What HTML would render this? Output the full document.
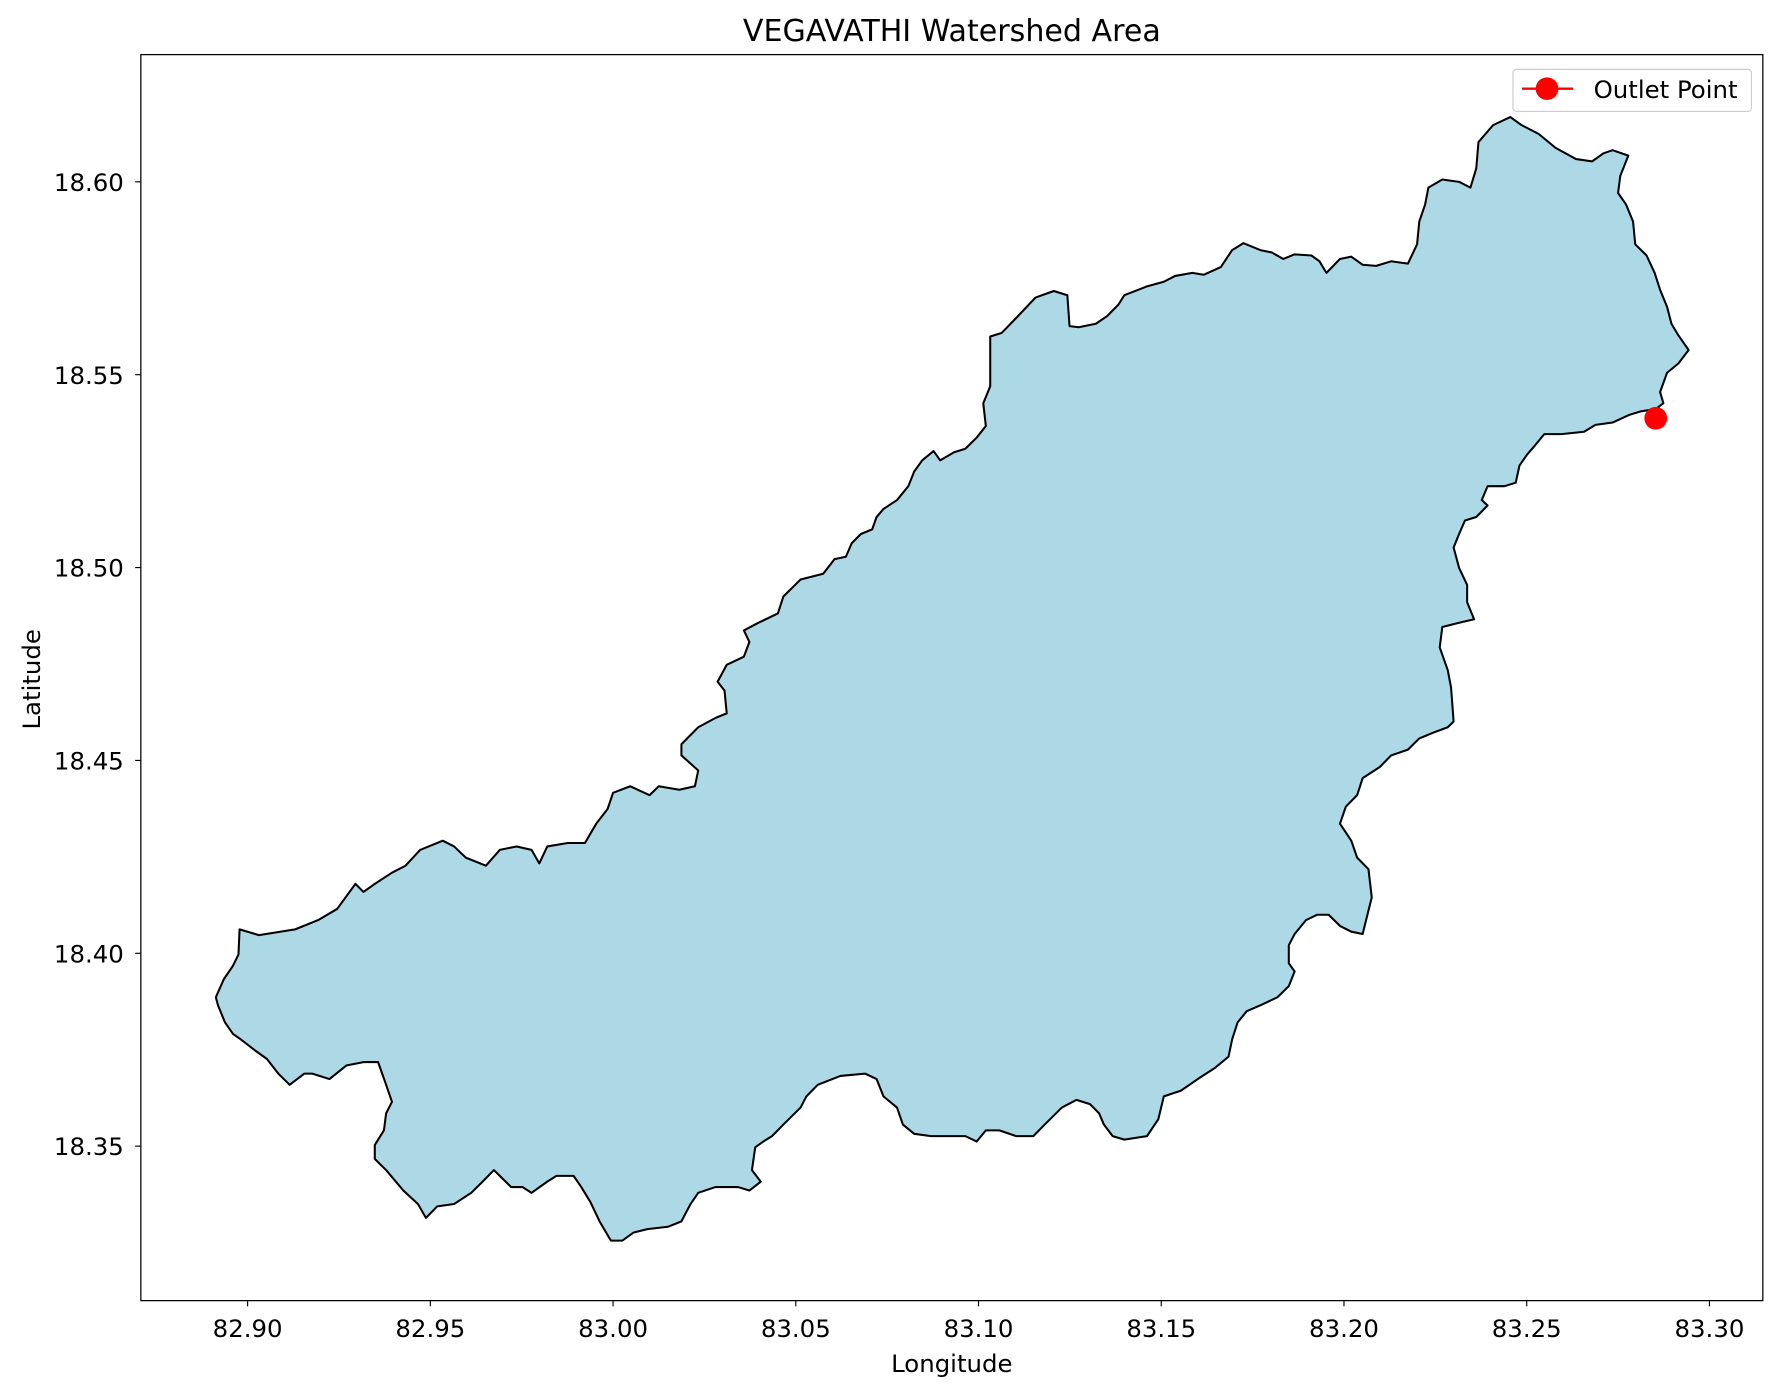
<!DOCTYPE html>
<html><head><meta charset="utf-8"><style>
html,body{margin:0;padding:0;background:#fff;}
svg{display:block;font-family:"DejaVu Sans","Liberation Sans",sans-serif;}
</style></head><body>
<svg id="chart" width="1781" height="1395" viewBox="0 0 1568 1228">
<rect x="0" y="0" width="1568" height="1228" fill="#fff"/>
<text x="838" y="36" text-anchor="middle" font-size="26.5" fill="#000">VEGAVATHI Watershed Area</text>
<g id="plot"></g>
<g id="axes"></g>
<text x="838" y="1208" text-anchor="middle" font-size="21.5">Longitude</text>
<text x="0" y="0" transform="translate(35,598) rotate(-90)" text-anchor="middle" font-size="21.5">Latitude</text>
<g>
<rect x="1332" y="61" width="210" height="37" rx="3" fill="#fff" fill-opacity="0.8" stroke="#ccc" stroke-width="1"/>
<line x1="1340" y1="78" x2="1385" y2="78" stroke="#ff0000" stroke-width="2"/>
<circle cx="1362" cy="78" r="10" fill="#ff0000"/>
<text x="1403" y="86" font-size="21.5">Outlet Point</text>
</g>
</svg>
<script>
const lon = [82.8913,82.8935,82.8960,82.8975,82.8978,82.9031,82.9130,82.9193,82.9245,82.9295,82.9317,82.9348,82.9395,82.9432,82.9472,82.9534,82.9565,82.9597,82.9652,82.9690,82.9736,82.9777,82.9798,82.9820,82.9876,82.9923,82.9954,82.9985,83.0000,83.0047,83.0100,83.0125,83.0181,83.0224,83.0233,83.0187,83.0187,83.0233,83.0280,83.0311,83.0305,83.0286,83.0311,83.0358,83.0373,83.0358,83.0398,83.0451,83.0466,83.0498,83.0513,83.0575,83.0606,83.0637,83.0653,83.0678,83.0709,83.0721,83.0740,83.0777,83.0808,83.0824,83.0846,83.0877,83.0895,83.0933,83.0964,83.0995,83.1020,83.1013,83.1032,83.1032,83.1032,83.1063,83.1103,83.1156,83.1206,83.1243,83.1249,83.1274,83.1321,83.1352,83.1383,83.1399,83.1461,83.1507,83.1538,83.1585,83.1616,83.1663,83.1694,83.1725,83.1771,83.1802,83.1834,83.1865,83.1911,83.1933,83.1952,83.1989,83.2020,83.2051,83.2088,83.2129,83.2175,83.2200,83.2206,83.2222,83.2231,83.2269,83.2315,83.2346,83.2362,83.2368,83.2408,83.2455,83.2486,83.2533,83.2579,83.2635,83.2679,83.2710,83.2735,83.2778,83.2756,83.2750,83.2772,83.2791,83.2797,83.2828,83.2850,83.2865,83.2884,83.2896,83.2915,83.2943,83.2915,83.2884,83.2865,83.2874,83.2853,83.2812,83.2781,83.2735,83.2688,83.2657,83.2595,83.2548,83.2523,83.2501,83.2480,83.2470,83.2439,83.2393,83.2377,83.2393,83.2362,83.2331,83.2315,83.2300,83.2315,83.2337,83.2337,83.2356,83.2315,83.2269,83.2262,83.2284,83.2293,83.2300,83.2284,83.2244,83.2206,83.2175,83.2129,83.2098,83.2051,83.2036,83.2005,83.1989,83.2020,83.2036,83.2067,83.2076,83.2051,83.2020,83.1989,83.1958,83.1927,83.1896,83.1865,83.1849,83.1849,83.1865,83.1849,83.1818,83.1771,83.1734,83.1709,83.1694,83.1684,83.1647,83.1600,83.1554,83.1507,83.1492,83.1461,83.1399,83.1367,83.1343,83.1330,83.1305,83.1268,83.1228,83.1181,83.1150,83.1103,83.1057,83.1020,83.0995,83.0964,83.0917,83.0870,83.0824,83.0793,83.0777,83.0740,83.0721,83.0690,83.0622,83.0560,83.0529,83.0513,83.0466,83.0435,83.0411,83.0389,83.0380,83.0404,83.0373,83.0342,83.0280,83.0233,83.0212,83.0187,83.0150,83.0094,83.0056,83.0025,82.9994,82.9963,82.9938,82.9913,82.9892,82.9845,82.9820,82.9777,82.9752,82.9721,82.9690,82.9674,82.9643,82.9612,82.9565,82.9519,82.9488,82.9466,82.9426,82.9379,82.9348,82.9348,82.9373,82.9379,82.9395,82.9379,82.9357,82.9317,82.9270,82.9224,82.9177,82.9155,82.9115,82.9084,82.9053,82.9022,82.8981,82.8960,82.8938,82.8919];
const lat = [18.3886,18.3933,18.3968,18.3997,18.4062,18.4047,18.4062,18.4086,18.4115,18.4180,18.4159,18.4180,18.4209,18.4227,18.4268,18.4292,18.4277,18.4248,18.4227,18.4268,18.4277,18.4268,18.4233,18.4277,18.4286,18.4286,18.4336,18.4374,18.4416,18.4433,18.4410,18.4433,18.4424,18.4433,18.4474,18.4513,18.4542,18.4586,18.4610,18.4622,18.4681,18.4704,18.4748,18.4769,18.4807,18.4837,18.4857,18.4881,18.4925,18.4955,18.4969,18.4984,18.5022,18.5028,18.5063,18.5087,18.5099,18.5131,18.5152,18.5175,18.5211,18.5249,18.5278,18.5302,18.5278,18.5299,18.5308,18.5337,18.5367,18.5426,18.5470,18.5558,18.5599,18.5608,18.5647,18.5700,18.5717,18.5706,18.5626,18.5623,18.5632,18.5652,18.5682,18.5706,18.5729,18.5741,18.5756,18.5764,18.5759,18.5779,18.5823,18.5841,18.5823,18.5817,18.5800,18.5812,18.5809,18.5794,18.5764,18.5800,18.5806,18.5785,18.5782,18.5794,18.5788,18.5838,18.5897,18.5941,18.5985,18.6006,18.6000,18.5985,18.6035,18.6103,18.6147,18.6168,18.6147,18.6124,18.6088,18.6059,18.6053,18.6074,18.6082,18.6068,18.6015,18.5971,18.5941,18.5897,18.5838,18.5809,18.5764,18.5720,18.5676,18.5632,18.5602,18.5564,18.5529,18.5505,18.5455,18.5426,18.5411,18.5405,18.5396,18.5376,18.5370,18.5352,18.5346,18.5346,18.5317,18.5293,18.5264,18.5220,18.5211,18.5211,18.5175,18.5161,18.5131,18.5122,18.5087,18.5052,18.4999,18.4955,18.4910,18.4866,18.4857,18.4846,18.4793,18.4734,18.4689,18.4601,18.4586,18.4572,18.4557,18.4528,18.4513,18.4483,18.4454,18.4410,18.4380,18.4336,18.4292,18.4248,18.4218,18.4145,18.4050,18.4056,18.4071,18.4100,18.4100,18.4086,18.4050,18.4021,18.3974,18.3953,18.3915,18.3886,18.3865,18.3850,18.3821,18.3777,18.3732,18.3703,18.3674,18.3644,18.3629,18.3570,18.3526,18.3517,18.3526,18.3556,18.3585,18.3609,18.3620,18.3600,18.3556,18.3526,18.3526,18.3541,18.3541,18.3512,18.3526,18.3526,18.3526,18.3532,18.3556,18.3600,18.3629,18.3674,18.3688,18.3682,18.3659,18.3629,18.3600,18.3556,18.3526,18.3512,18.3497,18.3438,18.3408,18.3385,18.3394,18.3394,18.3379,18.3350,18.3305,18.3291,18.3285,18.3276,18.3255,18.3255,18.3305,18.3355,18.3394,18.3423,18.3423,18.3408,18.3379,18.3394,18.3394,18.3423,18.3438,18.3408,18.3379,18.3350,18.3344,18.3314,18.3350,18.3385,18.3438,18.3467,18.3503,18.3541,18.3585,18.3615,18.3659,18.3718,18.3718,18.3709,18.3674,18.3688,18.3688,18.3659,18.3688,18.3726,18.3747,18.3777,18.3791,18.3821,18.3865];
const outletLon = [83.2853];
const outletLat = [18.5387];
const xTicks = [82.90,82.95,83.00,83.05,83.10,83.15,83.20,83.25,83.30];
const yTicks = [18.35,18.40,18.45,18.50,18.55,18.60];

const NS = 'http://www.w3.org/2000/svg';
const AX = {l:124, r:1552, t:48, b:1145};
function xs(v){ return 218 + (v - 82.90) / 0.05 * 160.875; }
function ys(v){ return 160 + (18.60 - v) / 0.05 * 169.8; }
function mk(tag, attrs, parent){ const e = document.createElementNS(NS, tag); for (const k in attrs) e.setAttribute(k, attrs[k]); parent.appendChild(e); return e; }

const plot = document.getElementById('plot');
let d = '';
for (let i = 0; i < lon.length; i++) d += (i ? 'L' : 'M') + xs(lon[i]).toFixed(2) + ',' + ys(lat[i]).toFixed(2);
d += 'Z';
const poly = mk('path', {d: d, fill: '#add8e6', stroke: '#000', 'stroke-width': 1.8, 'stroke-linejoin': 'round'}, plot);


for (let i = 0; i < outletLon.length; i++) {
  const c = mk('circle', {cx: xs(outletLon[i]), cy: ys(outletLat[i]), r: 10, fill: '#ff0000'}, plot);
  
  
}

const axes = document.getElementById('axes');
const frame = mk('rect', {x: AX.l, y: AX.t, width: AX.r - AX.l, height: AX.b - AX.t, fill: 'none', stroke: '#000', 'stroke-width': 1.1}, axes);


xTicks.forEach(v => {
  const x = xs(v);
  const t = mk('line', {x1: x, y1: AX.b, x2: x, y2: AX.b + 5, stroke: '#000', 'stroke-width': 1}, axes);
  
  
  const l = mk('text', {x: x, y: AX.b + 32, 'text-anchor': 'middle', 'font-size': 21.5}, axes);
  l.textContent = v.toFixed(2);
  
  
});
yTicks.forEach(v => {
  const y = ys(v);
  const t = mk('line', {x1: AX.l - 5, y1: y, x2: AX.l, y2: y, stroke: '#000', 'stroke-width': 1}, axes);
  
  
  const l = mk('text', {x: AX.l - 15, y: y + 8, 'text-anchor': 'end', 'font-size': 21.5}, axes);
  l.textContent = v.toFixed(2);
  
  
});
</script>
</body></html>
